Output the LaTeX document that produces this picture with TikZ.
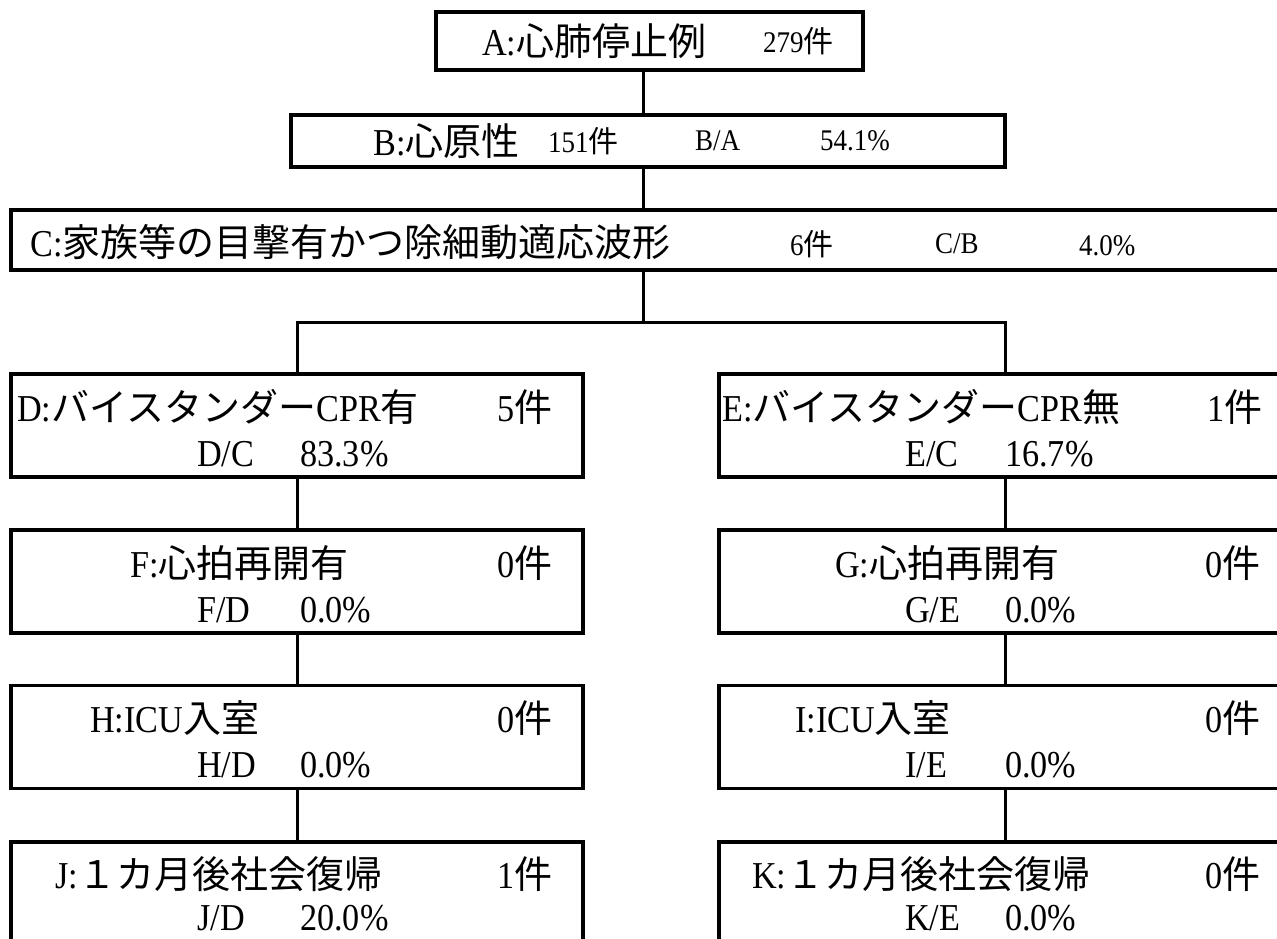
\documentclass[tikz,border=0pt]{standalone}
\usepackage{fontspec}
\setmainfont{Liberation Serif}[FakeStretch=0.9]
\newfontfamily\jp{Noto Sans CJK JP}
\usetikzlibrary{positioning}
\tikzset{
  box/.style={draw,line width=3.5pt,inner sep=0pt},
  link/.style={line width=3pt},
  lab/.style={anchor=west,inner sep=0pt,font=\fontsize{38}{40}\selectfont},
  cnt/.style={anchor=west,inner sep=0pt,font=\fontsize{30}{32}\selectfont},
}

\begin{document}
\begin{tikzpicture}[x=1pt,y=-1pt]
  \useasboundingbox (0,0) rectangle (1277,938);
  \clip (0,0) rectangle (1277,938);

  % boxes
  \node[box,minimum width=427pt,minimum height=58pt] (a) at (649.5,41) {};
  \node[box,minimum width=714pt,minimum height=52pt] (b) at (648,141) {};
  \node[box,minimum width=1279pt,minimum height=60pt] (c) at (650.5,240) {};

  \node[box,minimum width=572pt,minimum height=103pt] (d) at (297,425.5) {};
  \node[box,minimum width=572pt,minimum height=103pt] (e) at (1005,425.5) {};
  \node[box,minimum width=572pt,minimum height=103pt] (f) at (297,581.5) {};
  \node[box,minimum width=572pt,minimum height=103pt] (g) at (1005,581.5) {};
  \node[box,minimum width=572pt,minimum height=103pt] (h) at (297,737) {};
  \node[box,minimum width=572pt,minimum height=103pt] (i) at (1005,737) {};
  \node[box,minimum width=572pt,minimum height=103pt] (j) at (297,893.5) {};
  \node[box,minimum width=572pt,minimum height=103pt] (k) at (1005,893.5) {};

  % connectors
  \coordinate (trunk) at (643,0);
  \coordinate (split) at (643,322);
  \draw[link] (a.south -| trunk) -- (b.north -| trunk);
  \draw[link] (b.south -| trunk) -- (c.north -| trunk);
  \draw[link] (c.south -| trunk) -- (split);
  \draw[link] (d.north) |- (split) -| (e.north);
  \draw[link] (d.south) -- (f.north);
  \draw[link] (f.south) -- (h.north);
  \draw[link] (h.south) -- (j.north);
  \draw[link] (e.south) -- (g.north);
  \draw[link] (g.south) -- (i.north);
  \draw[link] (i.south) -- (k.north);

  % top row texts
  \node[lab] (alab) at (482,41) {A:{\jp 心肺停止例}};
  \node[cnt] (anum) at (763,41) {279{\jp 件}};

  \node[lab] (blab) at (373,141) {B:{\jp 心原性}};
  \node[cnt] (bnum) at (548,141) {151{\jp 件}};
  \node[cnt] (brat) at (695,141) {B/A};
  \node[cnt] (bpct) at (820,141) {54.1\%};

  \node[lab] (clab) at (30,242) {C:{\jp 家族等の目撃有かつ除細動適応波形}};
  \node[cnt] (cnum) at (790,244) {6{\jp 件}};
  \node[cnt] (crat) at (935,244) {C/B};
  \node[cnt] (cpct) at (1079,246) {4.0\%};

  % left column
  \node[lab] (dlab) at (17,407) {D:{\jp バイスタンダー}CPR{\jp 有}};
  \node[lab] (dnum) at (497,407) {5{\jp 件}};
  \node[lab] (drat) at (197,454) {D/C};
  \node[lab] (dpct) at (300,454) {83.3\%};

  \node[lab] (flab) at (130,563) {F:{\jp 心拍再開有}};
  \node[lab] (fnum) at (497,563) {0{\jp 件}};
  \node[lab] (frat) at (197,610) {F/D};
  \node[lab] (fpct) at (300,610) {0.0\%};

  \node[lab] (hlab) at (90,718) {H:ICU{\jp 入室}};
  \node[lab] (hnum) at (497,718) {0{\jp 件}};
  \node[lab] (hrat) at (197,765) {H/D};
  \node[lab] (hpct) at (300,765) {0.0\%};

  \node[lab] (jlab) at (55,874) {J:{\jp １カ月後社会復帰}};
  \node[lab] (jnum) at (497,874) {1{\jp 件}};
  \node[lab] (jrat) at (197,918) {J/D};
  \node[lab] (jpct) at (300,918) {20.0\%};

  % right column
  \node[lab] (elab) at (722,407) {E:{\jp バイスタンダー}CPR{\jp 無}};
  \node[lab] (enum) at (1207,407) {1{\jp 件}};
  \node[lab] (erat) at (905,454) {E/C};
  \node[lab] (epct) at (1005,454) {16.7\%};

  \node[lab] (glab) at (835,563) {G:{\jp 心拍再開有}};
  \node[lab] (gnum) at (1205,563) {0{\jp 件}};
  \node[lab] (grat) at (905,610) {G/E};
  \node[lab] (gpct) at (1005,610) {0.0\%};

  \node[lab] (ilab) at (795,718) {I:ICU{\jp 入室}};
  \node[lab] (inum) at (1205,718) {0{\jp 件}};
  \node[lab] (irat) at (905,765) {I/E};
  \node[lab] (ipct) at (1005,765) {0.0\%};

  \node[lab] (klab) at (752,874) {K:{\jp １カ月後社会復帰}};
  \node[lab] (knum) at (1205,874) {0{\jp 件}};
  \node[lab] (krat) at (905,918) {K/E};
  \node[lab] (kpct) at (1005,918) {0.0\%};
\end{tikzpicture}
\end{document}
